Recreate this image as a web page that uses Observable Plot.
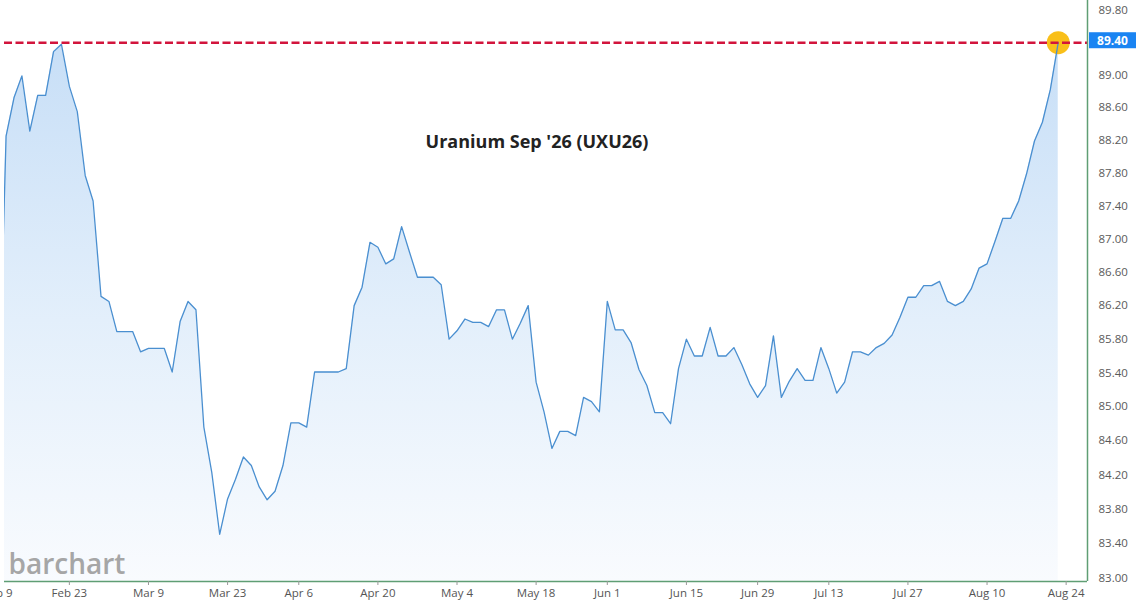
<!DOCTYPE html>
<html><head><meta charset="utf-8">
<script src="https://cdn.jsdelivr.net/npm/d3@7"></script>
<script src="https://cdn.jsdelivr.net/npm/@observablehq/plot@0.6"></script>
<style>
html,body{margin:0;padding:0;background:#fff;overflow:hidden}
#chart{width:1145px;height:604px}
</style></head><body><div id="chart"></div>
<script>
const title = "Uranium Sep '26 (UXU26)";
const watermark = "barchart";
const startDate = "2026-02-09";
const endDate = "2026-08-28";
const holidays = ["2026-02-16", "2026-04-03", "2026-05-25", "2026-06-19", "2026-07-03"];
const closes = [
  84.80, 88.25, 88.72, 88.99, 88.31, 88.75, 88.75, 89.29, 89.38, 88.86,
  88.55, 87.77, 87.46, 86.31, 86.25, 85.89, 85.89, 85.89, 85.65, 85.69,
  85.69, 85.69, 85.41, 86.01, 86.25, 86.15, 84.76, 84.23, 83.51, 83.92,
  84.15, 84.41, 84.31, 84.06, 83.91, 84.01, 84.31, 84.81, 84.81, 84.76,
  85.41, 85.41, 85.41, 85.41, 85.45, 86.20, 86.42, 86.96, 86.90, 86.70,
  86.76, 87.15, 86.84, 86.54, 86.54, 86.54, 86.45, 85.80, 85.90, 86.04,
  86.00, 86.00, 85.95, 86.15, 86.15, 85.80, 85.99, 86.20, 85.29, 84.94,
  84.51, 84.71, 84.71, 84.66, 85.11, 85.06, 84.94, 86.25, 85.91, 85.91,
  85.76, 85.44, 85.25, 84.93, 84.93, 84.80, 85.45, 85.80, 85.60, 85.60,
  85.94, 85.60, 85.60, 85.70, 85.50, 85.27, 85.11, 85.25, 85.84, 85.11,
  85.30, 85.45, 85.31, 85.31, 85.70, 85.45, 85.16, 85.29, 85.65, 85.65,
  85.61, 85.70, 85.75, 85.85, 86.06, 86.30, 86.30, 86.44, 86.44, 86.49,
  86.25, 86.20, 86.25, 86.40, 86.65, 86.70, 86.97, 87.25, 87.25, 87.46,
  87.79, 88.19, 88.42, 88.82, 89.40
];
const tickDates = ["2026-02-09", "2026-02-23", "2026-03-09", "2026-03-23", "2026-04-06", "2026-04-20", "2026-05-04", "2026-05-18", "2026-06-01", "2026-06-15", "2026-06-29", "2026-07-13", "2026-07-27", "2026-08-10", "2026-08-24"];
const tickLabels = ["Feb 9", "Feb 23", "Mar 9", "Mar 23", "Apr 6", "Apr 20", "May 4", "May 18", "Jun 1", "Jun 15", "Jun 29", "Jul 13", "Jul 27", "Aug 10", "Aug 24"];
const yTicks = [83.0, 83.4, 83.8, 84.2, 84.6, 85.0, 85.4, 85.8, 86.2, 86.6, 87.0, 87.4, 87.8, 88.2, 88.6, 89.0, 89.4, 89.8];
const yDomain = [82.965, 89.925];
const xDomain = [0.8, 137.7];

const parse = d3.utcParse("%Y-%m-%d");
const fmt = d3.utcFormat("%Y-%m-%d");
const tradingDays = d3.utcDays(parse(startDate), d3.utcDay.offset(parse(endDate), 1))
  .filter(d => d.getUTCDay() !== 0 && d.getUTCDay() !== 6 && !holidays.includes(fmt(d)))
  .map(fmt);
const data = closes.map((c, i) => ({i, date: tradingDays[i], close: c}));
const tickIndex = tickDates.map(d => tradingDays.indexOf(d));
const lastIndex = closes.length - 1;
const lastClose = closes[lastIndex];

const green = "#5f9e74";
const ns = "http://www.w3.org/2000/svg";
const f2 = d3.format(".2f");

function gradientDefs(index, scales, values, dims) {
  const defs = document.createElementNS(ns, "defs");
  const g = document.createElementNS(ns, "linearGradient");
  g.setAttribute("id", "areaFill");
  g.setAttribute("gradientUnits", "userSpaceOnUse");
  g.setAttribute("x1", 0); g.setAttribute("x2", 0);
  g.setAttribute("y1", dims.marginTop);
  g.setAttribute("y2", dims.height - dims.marginBottom);
  [["0", "#c3dcf6"], ["0.55", "#e3effb"], ["1", "#f9fbfe"]].forEach(([o, c]) => {
    const s = document.createElementNS(ns, "stop");
    s.setAttribute("offset", o);
    s.setAttribute("stop-color", c);
    g.appendChild(s);
  });
  defs.appendChild(g);
  return defs;
}

function priceTag(index, scales, values, dims) {
  const y = scales.y(lastClose);
  const x = dims.width - dims.marginRight;
  const g = document.createElementNS(ns, "g");
  const r = document.createElementNS(ns, "rect");
  r.setAttribute("x", x + 2);
  r.setAttribute("y", y - 10);
  r.setAttribute("width", 47);
  r.setAttribute("height", 16);
  r.setAttribute("fill", "#1a84f2");
  g.appendChild(r);
  const t = document.createElementNS(ns, "text");
  t.setAttribute("x", x + 25.5);
  t.setAttribute("y", y - 2);
  t.setAttribute("text-anchor", "middle");
  t.setAttribute("dominant-baseline", "central");
  t.setAttribute("fill", "#ffffff");
  t.setAttribute("font-weight", "bold");
  t.setAttribute("font-size", "12px");
  t.textContent = f2(lastClose);
  g.appendChild(t);
  return g;
}

const chart = Plot.plot({
  width: 1145,
  height: 604,
  marginLeft: 4,
  marginRight: 58,
  marginTop: 0,
  marginBottom: 23,
  style: {fontFamily: "'Open Sans', sans-serif", background: "#ffffff", overflow: "visible"},
  x: {type: "linear", domain: xDomain, axis: null},
  y: {type: "log", domain: yDomain, axis: null},
  marks: [
    gradientDefs,
    Plot.areaY(data, {x: "i", y1: yDomain[0], y2: "close", fill: "url(#areaFill)", clip: true}),
    Plot.text([watermark], {frameAnchor: "bottom-left", lineAnchor: "middle", textAnchor: "start", dx: 4, dy: -16, fontSize: 28, fontWeight: 600, fill: "#a6a6a6"}),
    Plot.text([title], {frameAnchor: "top", lineAnchor: "middle", dx: -9, dy: 142, fontSize: 18, fontWeight: "bold", fill: "#222222"}),
    Plot.dot([data[lastIndex]], {x: "i", y: "close", r: 11.5, fill: "#f8b800", fillOpacity: 0.9}),
    Plot.lineY(data, {x: "i", y: "close", stroke: "#4a8fd0", strokeWidth: 1.3, clip: true}),
    Plot.ruleY([lastClose], {stroke: "#d2143c", strokeWidth: 2.6, strokeDasharray: "8,3.5"}),
    Plot.ruleY([yDomain[0]], {stroke: green, strokeWidth: 1.5}),
    Plot.ruleX([xDomain[1]], {stroke: green, strokeWidth: 1.5}),
    Plot.axisX({ticks: tickIndex, tickFormat: d => tickLabels[tickIndex.indexOf(d)], tickSize: 4, tickPadding: 3, stroke: "#999999", fill: "#555555", fontSize: 11.5, label: null}),
    Plot.text(yTicks.filter(d => d !== lastClose), {y: d => d, text: d => f2(d), frameAnchor: "right", textAnchor: "start", dx: 11, fill: "#5a5a5a", fontSize: 11.5}),
    priceTag
  ]
});
document.getElementById("chart").appendChild(chart);
</script>
</body></html>
